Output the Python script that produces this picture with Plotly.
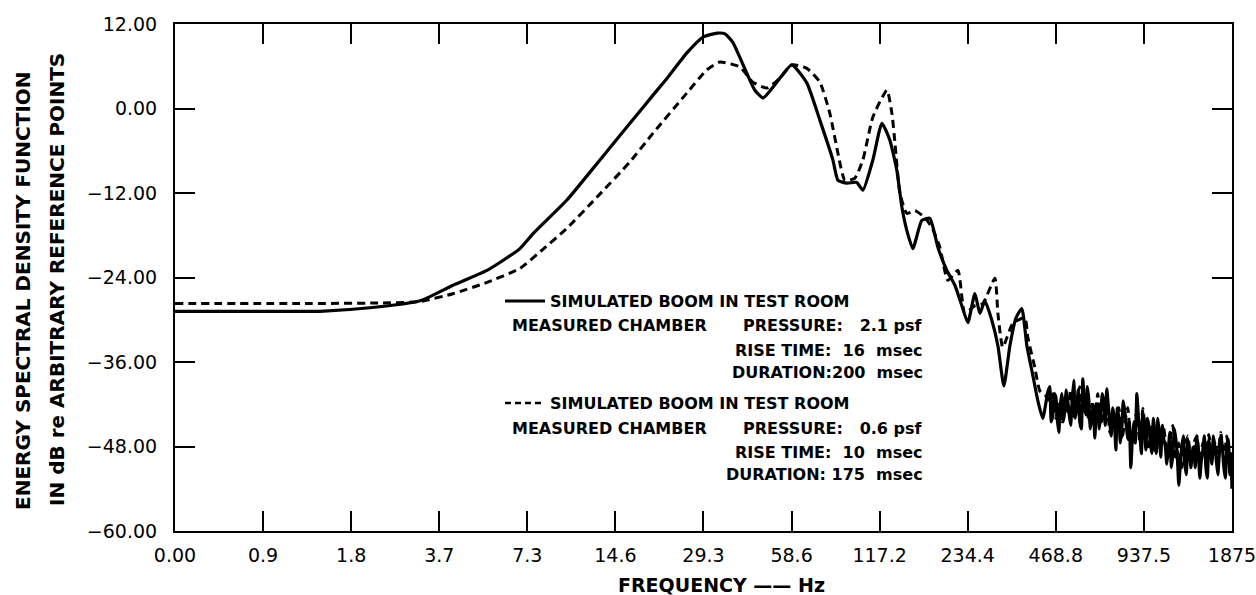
import plotly.graph_objects as go

# ---------------- data ----------------
# x tick positions are 1875 Hz halved repeatedly; the first is labelled "0.00"
tick_freqs = [0.45776, 0.91553, 1.83105, 3.66211, 7.32422, 14.6484, 29.2969,
              58.5938, 117.1875, 234.375, 468.75, 937.5, 1875.0]
tick_labels = ["0.00", "0.9", "1.8", "3.7", "7.3", "14.6", "29.3", "58.6",
               "117.2", "234.4", "468.8", "937.5", "1875"]
y_ticks = [12, 0, -12, -24, -36, -48, -60]
y_tick_labels = ["12.00", "0.00", "\u221212.00", "\u221224.00", "\u221236.00",
                 "\u221248.00", "\u221260.00"]

# 2.1 psf boom (solid)
freq_solid = [0.4578, 0.894, 1.43, 2.12, 3.15, 4.08, 5.33, 6.91, 7.65, 10.0,
              12.97, 16.8, 19.7, 22.0, 25.7, 29.2, 32.6, 34.7, 36.9, 41.2,
              43.9, 46.8, 52.2, 58.7, 66.1, 73.2, 81.1, 84.4, 90.6, 97.9,
              102.7, 111.1, 119.3, 127.0, 134.2, 139.6, 145.1, 152.2, 163.3, 174.0,
              185.3, 198.9, 211.9, 223.7, 234.6, 248.0, 257.9, 268.2, 283.5, 297.2,
              311.5, 326.6, 342.2, 358.7, 373.3, 391.2, 407, 423, 440]
db_solid = [-28.8, -28.8, -28.8, -28.3, -27.3, -25.1, -23.0, -19.9, -17.8, -13.0,
            -7.3, -1.6, 1.9, 4.3, 7.9, 10.15, 10.7, 10.6, 9.4, 5.0,
            2.6, 1.5, 3.75, 6.2, 3.6, -1.65, -7.3, -10.2, -10.6, -10.5,
            -11.6, -7.3, -2.1, -4.5, -8.8, -14.0, -17.3, -19.9, -15.9, -15.6,
            -19.7, -23.0, -25.1, -28.0, -30.4, -26.3, -29.1, -27.3, -30.1, -33.7,
            -39.4, -33.7, -29.8, -28.4, -33.7, -37.9, -41.5, -44.0, -40.3]

# 0.6 psf boom (dashed)
freq_dash = [0.4578, 1.224, 2.48, 3.15, 4.08, 5.33, 6.91, 8.28, 10.0, 12.66,
             16.4, 19.7, 25.7, 30.1, 33.3, 39.0, 43.2, 48.3, 53.4, 58.7,
             66.1, 73.2, 79.2, 84.4, 89.1, 96.4, 102.7, 111.1, 124.1, 129.1,
             132.2, 137.4, 145.1, 154.7, 167.2, 176.8, 188.2, 200.4, 216.9, 229.1,
             248.0, 263.9, 290.2, 297.2, 308.8, 334.3, 367.3, 376.0, 397.5, 413.3,
             433.2]
db_dash = [-27.7, -27.7, -27.6, -27.4, -26.3, -24.7, -22.7, -20.0, -17.0, -12.6,
           -7.6, -3.5, 2.2, 5.5, 6.6, 5.9, 3.75, 2.9, 4.3, 6.2,
           5.7, 3.75, -0.7, -6.35, -10.2, -9.9, -7.3, -1.2, 2.6, -0.7,
           -4.9, -12.0, -14.9, -14.5, -15.5, -16.9, -19.7, -24.4, -23.0, -29.1,
           -28.0, -27.7, -24.1, -29.1, -33.9, -30.5, -29.7, -32.5, -36.8, -40.1,
           -40.8]

# noisy high-frequency tail
freq_tail = [447, 458, 469, 480, 491, 503, 515, 527, 540, 553,
             566, 580, 594, 608, 622, 637, 652, 668, 684, 700,
             717, 734, 752, 770, 788, 807, 826, 846, 866, 887,
             908, 930, 952, 975, 998, 1022, 1046, 1071, 1097, 1123,
             1150, 1178, 1206, 1234, 1264, 1294, 1325, 1357, 1389, 1422,
             1456, 1491, 1527, 1563, 1601, 1639, 1678, 1718, 1759, 1801,
             1844, 1875]
db_solid_tail = [-39.5, -43.5, -41, -46, -40.5, -43, -41.5, -45, -38.6, -42.5,
                 -44.5, -38.4, -43.5, -41.5, -44, -46.8, -42, -43.5, -41.8, -39.8,
                 -44.5, -42.5, -48.5, -44, -45.5, -43, -47, -51, -44.5, -40.5,
                 -46, -43, -48.5, -45, -49, -46.5, -44, -49.5, -47, -50.5,
                 -46, -49, -47, -53.5, -48, -50.5, -47, -51, -48, -46.5,
                 -52.5, -48.5, -51, -47, -50.5, -48, -52, -46.5, -51, -48,
                 -52, -54]
# extra solid-curve samples lying between the tail frequencies above
freq_tail_mid = [452, 463, 474, 485, 497, 509, 521, 533, 546, 559,
                 573, 587, 601, 615, 630, 645, 660, 676, 692, 708,
                 725, 743, 761, 779, 797, 816, 836, 856, 876, 897,
                 919, 941, 963, 986, 1010, 1034, 1058, 1084, 1110, 1136,
                 1164, 1192, 1220, 1249, 1279, 1309, 1341, 1373, 1405, 1439,
                 1473, 1509, 1545, 1582, 1620, 1658, 1698, 1738, 1780, 1822,
                 1860]
db_solid_tail_mid = [-44.5, -40.5, -44, -42.5, -44.5, -40, -43.5, -41.5, -44, -40,
                     -45.5, -42, -39.5, -45.5, -42, -43, -45.5, -40.5, -45, -42,
                     -46.5, -44, -42.5, -47.5, -41.5, -45, -44.5, -47, -47.5, -43.5,
                     -49, -45, -44, -47.5, -44, -49, -46, -45, -48, -48.5,
                     -51, -45.5, -49.5, -50.5, -46.5, -52, -48.5, -49, -51, -48.5,
                     -50, -46.5, -52.5, -48.5, -46.5, -50, -49, -48, -52.5, -47,
                     -49]
db_dash_tail = [-41.5, -40.5, -44, -42, -44.5, -41, -43.5, -40, -44, -41,
                -39.5, -43, -40.5, -44.5, -42, -44, -40.5, -45, -43, -41.5,
                -46, -43.5, -45.5, -42.5, -47, -44.5, -42.5, -47.5, -45.5, -43,
                -47.5, -42.6, -46.5, -48.5, -45, -49, -46, -48, -45.5, -49,
                -47, -45, -50, -47.5, -51, -48, -46.5, -50, -47.5, -46.5,
                -50.5, -47.5, -49.5, -46.3, -50, -47.5, -49, -46, -50, -46.5,
                -50.5, -51]

legend_lines_1 = ["SIMULATED BOOM IN TEST ROOM", "MEASURED CHAMBER",
                  "PRESSURE:   2.1 psf", "RISE TIME:  16  msec", "DURATION:200  msec"]
legend_lines_2 = ["SIMULATED BOOM IN TEST ROOM", "MEASURED CHAMBER",
                  "PRESSURE:   0.6 psf", "RISE TIME:  10  msec", "DURATION: 175  msec"]

# interleave the solid tail samples in frequency order
solid_tail_pts = sorted(zip(freq_tail + freq_tail_mid, db_solid_tail + db_solid_tail_mid))
solid_x = freq_solid + [p[0] for p in solid_tail_pts]
solid_y = db_solid + [p[1] for p in solid_tail_pts]

# ---------------- figure ----------------
W, H = 1256, 595
L, R, T, B = 175, 24, 24, 64
PW, PH = W - L - R, H - T - B


def px(x):
    return (x - L) / PW


def py(y):
    return (H - B - y) / PH


fig = go.Figure()
fig.add_trace(go.Scatter(
    x=freq_dash + freq_tail, y=db_dash + db_dash_tail, mode="lines",
    line=dict(color="black", width=3, dash="8px,5px", shape="spline", smoothing=0.5),
    hoverinfo="skip", showlegend=False))
fig.add_trace(go.Scatter(
    x=solid_x, y=solid_y, mode="lines",
    line=dict(color="black", width=3.2, shape="spline", smoothing=0.5),
    hoverinfo="skip", showlegend=False))

FONT = "DejaVu Sans"
tickfont = dict(family=FONT, size=19, color="black")

fig.update_xaxes(
    type="log", range=[-0.33945, 3.27315],
    tickvals=tick_freqs, ticktext=tick_labels, tickfont=tickfont,
    ticks="inside", ticklen=20, tickwidth=1.5, tickcolor="black",
    showline=True, linecolor="black", linewidth=2, mirror="allticks",
    showgrid=False, zeroline=False, ticklabelstandoff=6,
    ticklabeloverflow="allow", automargin=False)
fig.update_yaxes(
    range=[-60, 12], tickvals=y_ticks, ticktext=y_tick_labels, tickfont=tickfont,
    ticks="inside", ticklen=20, tickwidth=1.5, tickcolor="black",
    showline=True, linecolor="black", linewidth=2, mirror="allticks",
    showgrid=False, zeroline=False, ticklabelstandoff=12,
    ticklabeloverflow="allow", automargin=False)

ann = []
lf = dict(family=FONT, size=16, color="black")


def add(text, x, y, anchor="left", font=lf, angle=0):
    ann.append(dict(text=text, x=px(x), y=py(y), xref="paper", yref="paper",
                    xanchor=anchor, yanchor="middle", showarrow=False,
                    font=font, textangle=angle))


# legend block
for base, lines in ((301, legend_lines_1), (403, legend_lines_2)):
    add("<b>" + lines[0] + "</b>", 548, base)
    add("<b>" + lines[1] + "</b>", 510, base + 25)
    add("<b>" + lines[2] + "</b>", 925, base + 25, anchor="right")
    add("<b>" + lines[3] + "</b>", 925, base + 49, anchor="right")
    add("<b>" + lines[4] + "</b>", 925, base + 71, anchor="right")

shapes = [
    dict(type="line", xref="paper", yref="paper", x0=px(505), x1=px(545),
         y0=py(301), y1=py(301), line=dict(color="black", width=3)),
    dict(type="line", xref="paper", yref="paper", x0=px(505), x1=px(545),
         y0=py(403), y1=py(403), line=dict(color="black", width=2.5, dash="6px,4px")),
]

tf = dict(family=FONT, size=20, color="black")
add("<b>ENERGY SPECTRAL DENSITY FUNCTION</b>", 23, 291, anchor="center", font=tf, angle=-90)
add("<b>IN dB re ARBITRARY REFERENCE POINTS</b>", 57, 280, anchor="center", font=tf, angle=-90)
add("<b>FREQUENCY \u2014\u2014 Hz</b>", 721, 585, anchor="center",
    font=dict(family=FONT, size=19, color="black"))

fig.update_layout(
    width=W, height=H, margin=dict(l=L, r=R, t=T, b=B, autoexpand=False),
    paper_bgcolor="white", plot_bgcolor="white",
    annotations=ann, shapes=shapes, showlegend=False)

fig.write_html("out.html")
